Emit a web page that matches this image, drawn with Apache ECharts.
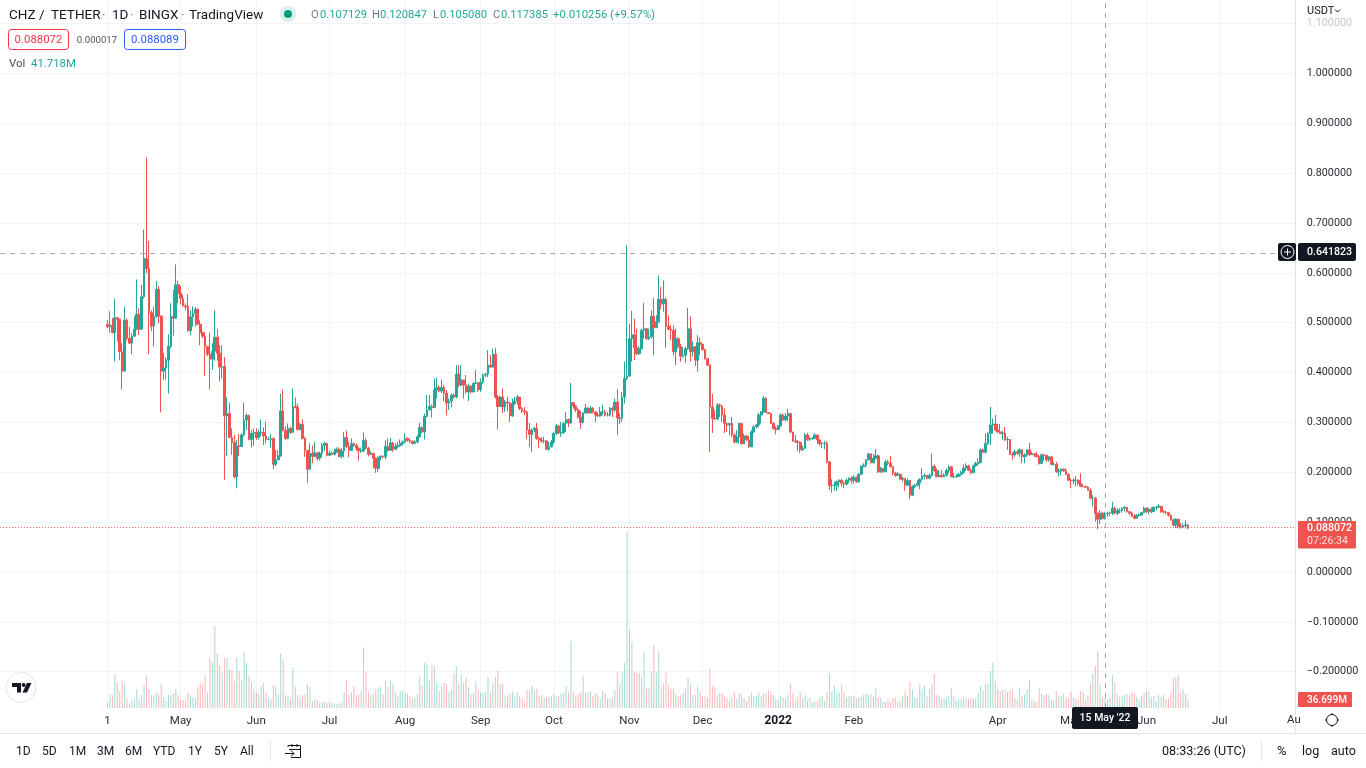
<!DOCTYPE html>
<html><head><meta charset="utf-8">
<style>html,body{margin:0;padding:0;background:#fff;overflow:hidden}#main{width:1366px;height:768px}</style>
<script src="https://cdn.jsdelivr.net/npm/echarts@6/dist/echarts.min.js"></script>
</head><body><div id="main"></div>
<script>
const firstCandle='2021-04-01';
const firstOpen=.497;
const closes=[.492,.495,.480,.510,.507,.442,.403,.505,.469,.459,
.473,.487,.517,.487,.552,.629,.609,.520,.493,.513,
.567,.513,.403,.409,.425,.453,.513,.509,.576,.559,
.549,.534,.532,.484,.512,.519,.527,.497,.480,.473,
.452,.437,.427,.443,.471,.439,.411,.412,.313,.318,
.270,.260,.191,.253,.252,.275,.305,.314,.266,.278,
.280,.270,.280,.280,.273,.266,.266,.268,.216,.225,
.233,.323,.284,.268,.288,.280,.332,.330,.286,.296,
.268,.244,.206,.238,.232,.239,.228,.238,.254,.258,
.234,.238,.236,.240,.246,.232,.243,.270,.252,.244,
.258,.254,.248,.243,.243,.264,.248,.236,.238,.228,
.208,.230,.232,.231,.252,.244,.259,.246,.251,.254,
.258,.261,.268,.264,.262,.258,.261,.271,.290,.281,
.312,.325,.332,.330,.365,.370,.363,.370,.359,.339,
.343,.355,.351,.397,.375,.385,.375,.361,.373,.361,
.378,.379,.366,.381,.395,.397,.415,.411,.437,.351,
.332,.351,.331,.341,.339,.313,.338,.343,.351,.328,
.323,.321,.285,.276,.285,.288,.268,.265,.263,.263,
.246,.251,.261,.278,.293,.279,.279,.298,.306,.299,
.340,.333,.325,.311,.300,.319,.329,.319,.329,.321,
.315,.313,.321,.321,.315,.315,.328,.325,.341,.309,
.308,.351,.388,.393,.468,.476,.450,.438,.448,.485,
.488,.468,.472,.513,.490,.502,.547,.538,.547,.493,
.487,.485,.442,.468,.452,.433,.435,.448,.488,.442,
.452,.425,.460,.457,.446,.428,.415,.331,.308,.307,
.335,.333,.315,.298,.295,.298,.275,.261,.271,.298,
.257,.273,.265,.251,.281,.291,.295,.315,.321,.348,
.320,.318,.298,.288,.286,.293,.315,.305,.313,.318,
.281,.263,.261,.260,.245,.248,.275,.266,.268,.268,
.275,.265,.258,.258,.258,.221,.173,.174,.174,.181,
.184,.178,.176,.184,.188,.184,.190,.181,.196,.212,
.214,.225,.237,.219,.228,.233,.201,.208,.201,.221,
.218,.211,.198,.194,.196,.186,.188,.174,.184,.154,
.171,.174,.178,.186,.192,.194,.188,.194,.212,.203,
.191,.194,.191,.194,.204,.211,.191,.191,.192,.196,
.199,.208,.213,.204,.199,.213,.218,.220,.245,.240,
.258,.278,.295,.297,.285,.281,.278,.279,.265,.266,
.236,.235,.241,.238,.245,.231,.235,.245,.235,.237,
.235,.231,.218,.235,.234,.225,.231,.216,.216,.201,
.203,.206,.203,.196,.184,.183,.184,.184,.178,.172,
.171,.170,.164,.148,.148,.118,.106,.118,.107129,.117385,
.118,.118,.128,.118,.123,.124,.128,.130,.121,.118,
.112,.108,.114,.114,.119,.128,.121,.126,.121,.130,
.130,.132,.121,.120,.119,.114,.104,.094,.106,.092,
.090,.093,.0945,.088072];
const highs=[.505,.523,.509,.549,.512,.477,.459,.532,.509,.492,
.479,.513,.587,.529,.576,.687,.831,.664,.525,.532,
.584,.574,.515,.440,.431,.477,.539,.566,.617,.584,
.574,.557,.539,.557,.525,.533,.532,.529,.505,.482,
.482,.452,.480,.459,.525,.487,.455,.455,.431,.350,
.340,.288,.275,.265,.277,.278,.340,.318,.316,.285,
.288,.288,.285,.306,.290,.302,.271,.277,.270,.245,
.245,.358,.365,.292,.298,.292,.368,.350,.338,.299,
.306,.271,.244,.258,.254,.261,.241,.242,.259,.261,
.259,.244,.242,.248,.250,.250,.248,.281,.284,.261,
.268,.259,.258,.251,.250,.280,.268,.251,.242,.239,
.230,.232,.234,.234,.264,.268,.269,.261,.258,.261,
.266,.264,.278,.270,.268,.264,.264,.274,.299,.292,
.318,.355,.355,.336,.388,.390,.375,.386,.375,.365,
.348,.358,.358,.415,.415,.415,.385,.395,.378,.375,
.381,.405,.381,.388,.398,.399,.445,.435,.448,.449,
.355,.353,.368,.345,.351,.341,.348,.351,.355,.346,
.331,.331,.323,.299,.288,.291,.299,.271,.270,.271,
.265,.261,.265,.281,.297,.295,.301,.301,.321,.308,
.379,.340,.335,.328,.323,.321,.337,.331,.333,.331,
.323,.321,.331,.335,.325,.321,.331,.331,.348,.367,
.318,.361,.422,.655,.498,.524,.508,.488,.453,.488,
.540,.490,.488,.525,.550,.515,.595,.572,.585,.550,
.515,.495,.495,.488,.471,.458,.452,.452,.530,.513,
.462,.452,.475,.471,.457,.448,.428,.417,.357,.325,
.339,.338,.335,.328,.299,.299,.311,.278,.285,.299,
.295,.278,.275,.273,.285,.295,.297,.319,.323,.353,
.351,.321,.319,.301,.292,.295,.318,.318,.319,.327,
.318,.281,.275,.265,.262,.253,.279,.279,.271,.271,
.278,.275,.266,.261,.263,.262,.223,.186,.181,.184,
.186,.186,.181,.188,.190,.192,.194,.191,.198,.214,
.218,.226,.238,.237,.237,.247,.235,.211,.208,.225,
.225,.233,.212,.201,.201,.198,.191,.188,.188,.181,
.174,.176,.184,.188,.208,.198,.194,.198,.237,.216,
.208,.205,.205,.198,.208,.214,.212,.198,.196,.199,
.203,.216,.218,.215,.208,.215,.221,.228,.248,.248,
.278,.281,.331,.308,.315,.297,.297,.283,.291,.271,
.266,.241,.246,.245,.248,.246,.238,.246,.259,.241,
.239,.241,.235,.238,.237,.235,.233,.233,.221,.221,
.208,.208,.208,.208,.198,.188,.188,.192,.186,.198,
.176,.174,.172,.168,.154,.151,.119,.124,.121,.120847,
.121,.121,.141,.130,.128,.128,.130,.132,.130,.122,
.121,.116,.116,.118,.121,.131,.130,.129,.130,.131,
.132,.136,.132,.124,.123,.121,.115,.107,.108,.106,
.098,.098,.104,.096];
const lows=[.489,.480,.479,.422,.462,.425,.366,.402,.465,.457,
.437,.472,.485,.475,.487,.549,.599,.437,.483,.452,
.509,.499,.320,.385,.386,.358,.449,.473,.509,.539,
.537,.532,.525,.482,.475,.492,.492,.495,.455,.469,
.393,.433,.366,.405,.424,.424,.382,.388,.185,.233,
.268,.235,.188,.168,.232,.250,.272,.285,.264,.250,
.253,.265,.266,.272,.255,.258,.264,.249,.206,.212,
.230,.231,.282,.265,.266,.277,.280,.328,.284,.284,
.266,.231,.179,.206,.218,.231,.224,.224,.230,.243,
.232,.232,.234,.234,.239,.230,.228,.230,.248,.230,
.244,.251,.243,.223,.239,.241,.246,.232,.234,.208,
.199,.201,.224,.228,.226,.241,.243,.241,.246,.248,
.251,.254,.258,.261,.258,.256,.256,.258,.270,.278,
.266,.310,.325,.310,.328,.348,.361,.359,.343,.314,
.325,.330,.348,.348,.371,.373,.348,.358,.343,.358,
.361,.377,.361,.361,.378,.391,.391,.410,.410,.348,
.286,.331,.319,.321,.323,.301,.311,.335,.335,.325,
.319,.315,.267,.251,.241,.281,.265,.248,.259,.258,
.245,.243,.250,.257,.275,.277,.271,.278,.281,.291,
.297,.328,.321,.308,.287,.298,.318,.317,.317,.318,
.301,.311,.312,.315,.312,.312,.312,.311,.321,.275,
.297,.301,.338,.385,.392,.422,.425,.435,.435,.446,
.468,.466,.465,.468,.435,.490,.500,.527,.522,.450,
.485,.465,.435,.415,.448,.422,.430,.420,.445,.422,
.432,.413,.402,.435,.444,.426,.413,.241,.279,.305,
.304,.311,.301,.279,.281,.275,.271,.258,.258,.257,
.257,.263,.263,.249,.251,.278,.288,.291,.298,.319,
.319,.317,.297,.286,.276,.286,.291,.303,.302,.303,
.278,.261,.259,.243,.239,.243,.248,.263,.263,.265,
.266,.257,.253,.248,.246,.218,.164,.159,.163,.163,
.170,.172,.168,.174,.178,.177,.177,.179,.179,.196,
.210,.210,.223,.218,.218,.226,.199,.199,.199,.201,
.214,.210,.194,.191,.192,.186,.181,.163,.172,.146,
.152,.168,.172,.166,.183,.186,.186,.186,.192,.201,
.190,.191,.190,.190,.191,.198,.190,.189,.189,.191,
.192,.199,.203,.202,.196,.199,.211,.213,.218,.238,
.238,.255,.255,.278,.283,.279,.277,.265,.263,.245,
.235,.225,.231,.235,.231,.218,.218,.231,.233,.235,
.231,.230,.215,.216,.223,.221,.221,.214,.214,.199,
.192,.194,.201,.194,.183,.168,.176,.172,.174,.170,
.170,.168,.163,.146,.131,.101,.086,.096,.106,.105080,
.111,.112,.114,.116,.114,.118,.119,.121,.119,.114,
.110,.106,.107,.111,.114,.118,.118,.116,.118,.121,
.124,.128,.119,.118,.116,.111,.103,.092,.088,.088,
.087,.088,.088,.086];
const volumes=[22,58,53,140,106,69,110,99,38,18,
29,35,76,39,52,94,129,76,53,52,
63,53,97,45,29,53,53,60,78,53,
33,33,29,65,53,45,42,83,102,97,
135,63,203,185,335,222,174,144,205,205,
155,155,110,205,151,117,228,184,131,103,
76,63,58,90,102,63,39,35,92,86,
56,222,199,53,49,37,165,86,53,45,
53,56,97,88,29,35,31,20,22,22,
22,22,22,15,15,18,22,63,110,56,
63,90,53,56,69,246,147,63,56,58,
79,80,86,56,114,87,110,99,63,49,
69,69,63,58,49,39,45,56,126,90,
184,181,110,175,169,103,69,86,102,99,
67,72,140,171,97,
137,102,124,86,56,61,110,76,63,60,
67,124,67,103,126,151,99,99,53,46,
60,67,46,63,49,38,29,73,69,92,
73,79,49,52,42,42,46,46,56,46,
49,60,63,90,63,273,63,50,56,63,
133,63,63,69,49,60,53,38,69,60,
38,38,42,73,148,99,144,185,718,317,
269,148,144,144,124,226,79,83,151,257,
144,230,90,99,144,94,76,79,58,46,
53,63,79,124,97,53,53,87,67,46,
49,42,159,90,86,53,60,60,49,42,
29,42,65,38,58,56,38,26,49,63,
49,49,63,49,60,63,69,67,53,38,
33,49,42,38,53,97,61,33,46,65,
42,53,29,42,22,29,29,42,49,29,
65,140,69,92,60,63,94,63,42,49,
49,49,38,42,46,53,56,53,56,46,
79,42,42,26,26,35,26,42,42,26,
29,49,69,49,107,73,46,42,94,
76,90,49,76,99,140,53,49,38,39,
39,49,80,52,29,35,38,42,38,38,
39,42,39,63,90,72,97,99,151,188,
110,72,69,73,72,65,69,76,42,35,
83,49,56,76,113,38,31,22,79,58,
53,58,53,33,31,69,49,49,58,42,
38,65,42,39,35,69,65,35,53,101,
140,171,233,94,42,41.718,35,45,135,106,
58,45,49,53,58,53,65,63,45,35,
49,63,69,67,45,49,31,53,45,53,
35,39,67,124,126,135,63,76,58,36.699];
const yTicks=[-.2,-.1,0,.1,.2,.3,.4,.5,.6,.7,.8,.9,1,1.1];
const xTickDates=['2021-04-01','2021-05-01','2021-06-01','2021-07-01','2021-08-01','2021-09-01','2021-10-01','2021-11-01','2021-12-01','2022-01-01','2022-02-01','2022-04-01','2022-05-01','2022-06-01','2022-07-01'];
const xTickLabels=['1','May','Jun','Jul','Aug','Sep','Oct','Nov','Dec','2022','Feb','Apr','May','Jun','Jul'];
const crossPrice=.641823, crossDate='2022-05-15', lastPrice=.088072;

const UP='#26a69a', DOWN='#ef5350', INK='#131722', AXIS='#2a2e39', FONT='Roboto, "Open Sans", sans-serif';
const pad=n=>String(n).padStart(2,'0');
const dates=[];
for(let t=Date.UTC(2021,1,16),e=Date.UTC(2022,7,1);t<=e;t+=864e5){const d=new Date(t);dates.push(d.getUTCFullYear()+'-'+pad(d.getUTCMonth()+1)+'-'+pad(d.getUTCDate()));}
const lead=dates.indexOf(firstCandle);
const opens=[firstOpen].concat(closes.slice(0,-1));
const candleData=new Array(lead).fill('-').concat(closes.map((c,i)=>[opens[i],c,lows[i],highs[i]]));
const volData=new Array(lead).fill('-').concat(volumes.map((v,i)=>({value:v,itemStyle:{color:closes[i]>=opens[i]?'rgba(38,166,154,.42)':'rgba(239,83,80,.42)'}})));
const tickMap=Object.fromEntries(xTickDates.map((d,i)=>[d,xTickLabels[i]]));

const T=(x,y,text,o={})=>({type:'text',x,y:y+.5,z:o.z||50,silent:true,style:{text,fill:o.fill||INK,font:(o.weight||'normal')+' '+(o.size||12)+'px '+FONT,align:o.align||'left',verticalAlign:'middle'}});
const R=(x,y,w,h,fill,o={})=>({type:'rect',z:o.z||40,silent:true,shape:{x,y,width:w,height:h,r:o.r||0},style:{fill,stroke:o.stroke||null,lineWidth:o.lw||1}});
const L=(pts,stroke,o={})=>({type:'polyline',z:o.z||50,silent:true,shape:{points:pts},style:{stroke,fill:null,lineWidth:o.lw||1}});
const C=(x,y,r,o={})=>({type:'circle',z:o.z||50,silent:true,shape:{cx:x,cy:y,r},style:{fill:o.fill||null,stroke:o.stroke||null,lineWidth:o.lw||1}});
const P=(pts,fill)=>({type:'polygon',z:50,silent:true,shape:{points:pts},style:{fill}});

const GRAY='#787b86';
const gfx=[
 R(1297,0,69,27,'rgba(255,255,255,.72)',{z:30}),
 T(9,15,'CHZ',{size:13.5}),T(39,15,'/',{size:13.5}),T(51,15,'TETHER',{size:13.5}),T(102,15,'·',{size:13.5,fill:GRAY}),T(112,15,'1D',{size:13.5}),T(130,15,'·',{size:13.5,fill:GRAY}),T(139,15,'BINGX',{size:13.5}),T(181,15,'·',{size:13.5,fill:GRAY}),T(189,15,'TradingView',{size:13.5}),
 C(288,14,8,{fill:'rgba(8,153,129,.15)'}),C(288,14,4,{fill:'#089981'}),
 T(311,15,'O',{fill:GRAY,size:11.2}),T(320,15,'0.107129',{fill:UP,size:11.2}),
 T(372,15,'H',{fill:GRAY,size:11.2}),T(380,15,'0.120847',{fill:UP,size:11.2}),
 T(433,15,'L',{fill:GRAY,size:11.2}),T(440,15,'0.105080',{fill:UP,size:11.2}),
 T(493,15,'C',{fill:GRAY,size:11.2}),T(501,15,'0.117385',{fill:UP,size:11.2}),
 T(553,15,'+0.010256 (+9.57%)',{fill:UP,size:11.4}),
 R(8.5,29.5,60,20,'#fff',{stroke:'#f23645',r:3}),T(38.5,40,'0.088072',{fill:'#f23645',align:'center',size:11.4}),
 T(97,40,'0.000017',{size:9.6,fill:'#50535e',align:'center'}),
 R(124.5,29.5,61,20,'#fff',{stroke:'#2962ff',r:3}),T(155,40,'0.088089',{fill:'#2962ff',align:'center',size:11.4}),
 T(9,64,'Vol',{fill:'#50535e',size:11.5}),T(31,64,'41.718M',{fill:UP,size:11.4}),
 C(21,687.5,15,{fill:'#fff',stroke:'#e0e3eb'}),
 P([[12,683],[21,683],[21,692.5],[17,692.5],[17,687],[12,687]],INK),C(23.6,685,2,{fill:INK}),P([[27,683],[31.5,683],[27,692.5],[22.5,692.5]],INK),
 L([[1295.5,0],[1295.5,733]],'#e0e3eb',{z:20}),
 L([[0,733.5],[1366,733.5]],'#e0e3eb',{z:20}),
 R(1296,708,70,25,'#fff',{z:19}),
 T(1287,720,'Au',{size:11.5,fill:AXIS}),
 T(16,751,'1D'),T(42,751,'5D'),T(69,751,'1M'),T(97,751,'3M'),T(125,751,'6M'),T(153,751,'YTD'),T(188,751,'1Y'),T(214,751,'5Y'),T(240,751,'All'),
 L([[270.5,741],[270.5,761]],'#e0e3eb'),
 L([[288,747],[288,745.5],[300.5,745.5],[300.5,757.5],[291,757.5]],INK),L([[289,749.5],[300,749.5]],INK),L([[285,753.5],[294,753.5]],INK),L([[291,750.5],[294,753.5],[291,756.5]],INK),L([[292,744],[292,747]],INK),L([[297,744],[297,747]],INK),
 T(1162,751,'08:33:26 (UTC)',{size:12.6}),L([[1261.5,741],[1261.5,761]],'#e0e3eb'),T(1277,751,'%',{size:13}),T(1302,751,'log',{size:12.5}),T(1331,751,'auto',{size:12.5}),
 C(1332,720,5.5,{stroke:INK}),L([[1332,713],[1332,714.5]],INK),L([[1332,725.5],[1332,727]],INK),L([[1325,720],[1326.5,720]],INK),L([[1337.5,720],[1339,720]],INK),
 T(1307,11,'USDT',{size:11}),L([[1335,9.5],[1337.5,12],[1340,9.5]],INK),
 R(1278,243,18,18,INK,{r:2}),C(1287.5,252,6.5,{stroke:'#fff'}),L([[1284,252],[1291,252]],'#fff'),L([[1287.5,248.5],[1287.5,255.5]],'#fff'),
 R(1298,243,58,18,INK,{r:2}),T(1307,252,'0.641823',{fill:'#fff',weight:'500',size:10.6}),
 R(1298,521,58,27.5,DOWN,{r:1}),T(1307,528,'0.088072',{fill:'#fff',weight:'500',size:10.6}),T(1307,541,'07:26:34',{fill:'rgba(255,255,255,.8)',size:10.6}),
 R(1298,692,54,15,DOWN,{r:1}),T(1307,699.5,'36.699M',{fill:'#fff',weight:'500',size:10}),
 R(1072,707,66,22,INK,{r:2}),T(1105,718,"15 May '22",{fill:'#fff',align:'center',weight:'500',size:10.5})
];

const chart=echarts.init(document.getElementById('main'),null,{renderer:'canvas'});
chart.setOption({
 animation:false,backgroundColor:'#fff',
 grid:{left:.2,width:1295.1,top:0,height:708,containLabel:false},
 graphic:gfx,
 xAxis:{type:'category',data:dates,boundaryGap:false,
  axisLine:{show:false},axisTick:{show:false},
  splitLine:{show:true,interval:(i,v)=>tickMap[v]!==undefined,lineStyle:{color:'#f2f3f5',width:1}},
  axisLabel:{interval:(i,v)=>tickMap[v]!==undefined,formatter:v=>v==='2022-01-01'?'{b|2022}':tickMap[v],color:AXIS,fontFamily:FONT,fontSize:11.5,margin:7,hideOverlap:false,rich:{b:{fontWeight:'bold',fontSize:12,color:INK,fontFamily:FONT}}}},
 yAxis:[
  {type:'value',position:'right',min:-.2728,max:1.1474,scale:false,
   axisLine:{show:false},axisTick:{show:false,customValues:yTicks},
   splitLine:{show:true,lineStyle:{color:'#f2f3f5',width:1}},
   axisLabel:{customValues:yTicks,margin:11.5,color:AXIS,fontFamily:FONT,fontSize:10.8,padding:[1,0,0,0],formatter:v=>(v<0?'−':'')+Math.abs(v).toFixed(6)}},
  {type:'value',position:'left',min:0,max:2889,show:false,splitLine:{show:false}}
 ],
 series:[
  {type:'bar',name:'Vol',xAxisIndex:0,yAxisIndex:1,data:volData,barWidth:1,z:2,silent:true},
  {type:'candlestick',name:'CHZ',xAxisIndex:0,yAxisIndex:0,data:candleData,barWidth:2.2,z:3,silent:true,
   itemStyle:{color:UP,color0:DOWN,borderColor:UP,borderColor0:DOWN,borderWidth:1},
   markLine:{silent:true,symbol:'none',animation:false,label:{show:false},data:[
    {yAxis:crossPrice,lineStyle:{color:'#a3a6af',type:[5,5],width:1}},
    {xAxis:crossDate,lineStyle:{color:'#a3a6af',type:[5,5],width:1}},
    {yAxis:lastPrice,lineStyle:{color:DOWN,type:[1,2],width:1}}
   ]}}
 ]
});
</script></body></html>
